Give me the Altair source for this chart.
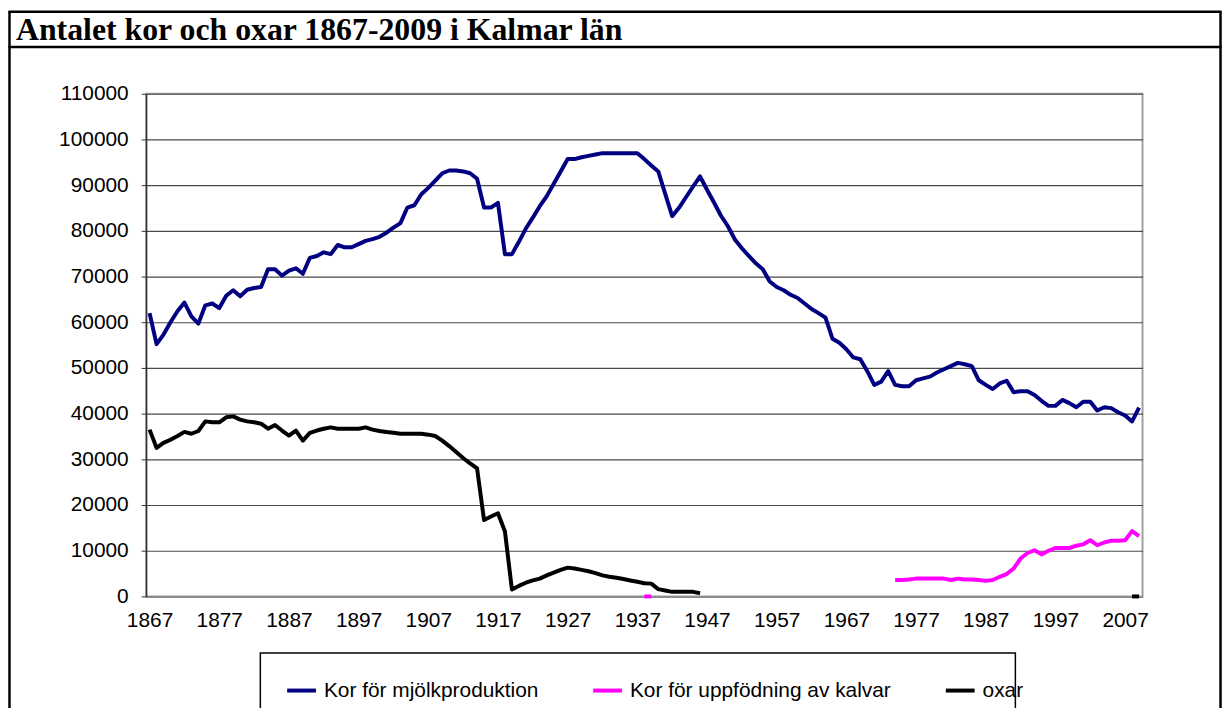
import altair as alt
import pandas as pd

S1 = "Kor för mjölkproduktion"
S2 = "Kor för uppfödning av kalvar"
S3 = "oxar"
TITLE = "Antalet kor och oxar 1867-2009 i Kalmar län"

mjolk_start = 1867
mjolk = [
    62000, 55200, 57300, 60000, 62400, 64300, 61300, 59700, 63700, 64100,  # 1867-1876
    63100, 65800, 67000, 65700, 67100, 67500, 67700, 71600, 71600, 70200,  # 1877-1886
    71300, 71800, 70600, 74100, 74500, 75300, 74900, 76900, 76400, 76400,  # 1887-1896
    77100, 77800, 78200, 78700, 79600, 80700, 81700, 85100, 85600, 88000,  # 1897-1906
    89400, 91000, 92600, 93200, 93200, 93000, 92600, 91400, 85100, 85100,  # 1907-1916
    86100, 74900, 74900, 77600, 80500, 82900, 85400, 87600, 90300, 93000,  # 1917-1926
    95700, 95700, 96100, 96400, 96700, 97000, 97000, 97000, 97000, 97000,  # 1927-1936
    97000, 95700, 94300, 93000, 88100, 83200, 85100, 87400, 89700, 91900,  # 1937-1946
    89000, 86200, 83300, 81000, 78100, 76200, 74500, 72900, 71600, 68900,  # 1947-1956
    67700, 67000, 66000, 65300, 64100, 62900, 62000, 61000, 56400, 55500,  # 1957-1966
    54100, 52300, 51900, 49300, 46300, 47000, 49300, 46300, 46000, 46000,  # 1967-1976
    47300, 47700, 48100, 49000, 49700, 50400, 51100, 50800, 50400, 47300,  # 1977-1986
    46300, 45400, 46600, 47200, 44700, 44900, 44900, 44100, 42800, 41700,  # 1987-1996
    41700, 43000, 42300, 41400, 42600, 42600, 40700, 41400, 41200, 40300,  # 1997-2006
    39600, 38300, 41300,                                                    # 2007-2009
]

oxar_start = 1867
oxar = [
    36500, 32500, 33600, 34300, 35100, 36000, 35600, 36200, 38300, 38100,  # 1867-1876
    38100, 39200, 39400, 38700, 38300, 38100, 37800, 36700, 37500, 36300,  # 1877-1886
    35200, 36300, 34100, 35800, 36300, 36700, 37000, 36700, 36700, 36700,  # 1887-1896
    36700, 37000, 36500, 36200, 36000, 35800, 35600, 35600, 35600, 35600,  # 1897-1906
    35400, 35100, 34100, 32900, 31600, 30300, 29100, 28000, 16700, 17500,  # 1907-1916
    18200, 14200, 1500, 2300, 3000, 3500, 3900, 4600, 5200, 5800,         # 1917-1926
    6300, 6100, 5800, 5500, 5100, 4600, 4300, 4100, 3800, 3500,           # 1927-1936
    3200, 2900, 2800, 1600, 1300, 1000, 1000, 1000, 1000, 700,            # 1937-1946
]
oxar_end_start = 2008
oxar_end = [0, 0]

kalv_early_start = 1938
kalv_early = [0, 0]
kalv_start = 1974
kalv = [
    3600, 3600, 3700, 3900, 3900, 3900, 3900, 3900, 3600, 3900,   # 1974-1983
    3700, 3700, 3600, 3400, 3600, 4300, 4900, 6100, 8300, 9500,   # 1984-1993
    10100, 9200, 10000, 10600, 10600, 10600, 11100, 11400, 12300, 11200,  # 1994-2003
    11800, 12200, 12200, 12300, 14300, 13200,                      # 2004-2009
]

x_ticks = [1867, 1877, 1887, 1897, 1907, 1917, 1927, 1937, 1947, 1957, 1967, 1977, 1987, 1997, 2007]
y_ticks = [0, 10000, 20000, 30000, 40000, 50000, 60000, 70000, 80000, 90000, 100000, 110000]

rows = []


def add(series, seg, start, vals):
    for i, v in enumerate(vals):
        rows.append({"year": start + i, "value": v, "series": series, "seg": seg})


add(S1, "m1", mjolk_start, mjolk)
add(S2, "k1", kalv_early_start, kalv_early)
add(S2, "k2", kalv_start, kalv)
add(S3, "o1", oxar_start, oxar)
add(S3, "o2", oxar_end_start, oxar_end)
df = pd.DataFrame(rows)

one = pd.DataFrame({"a": [0]})

FS = 21

lines = alt.Chart(df).mark_line(strokeWidth=4, strokeJoin="round").encode(
    x=alt.X(
        "year:Q",
        scale=alt.Scale(domain=[1866.5, 2009.5], nice=False, zero=False),
        axis=alt.Axis(values=x_ticks, format="d", title=None, grid=False, tickSize=0,
                      labelPadding=13, domainColor="#8c8c8c", domainWidth=2,
                      labelFlush=False, labelOverlap=False),
    ),
    y=alt.Y(
        "value:Q",
        scale=alt.Scale(domain=[0, 110000], nice=False),
        axis=alt.Axis(values=y_ticks, format="d", title=None, grid=True,
                      gridColor="#4a4a4a", gridWidth=1.2, tickSize=5, tickColor="#333333",
                      labelPadding=13, domainColor="#333333", domainWidth=1.5),
    ),
    color=alt.Color(
        "series:N",
        scale=alt.Scale(domain=[S1, S2, S3], range=["#000080", "#ff00ff", "#000000"]),
        legend=alt.Legend(title=None, orient="none", legendX=140, legendY=584,
                          direction="horizontal", symbolType="stroke", symbolSize=841,
                          symbolStrokeWidth=4, labelFontSize=FS, labelFont="Liberation Sans",
                          labelColor="black", labelOffset=6, columnPadding=47, labelLimit=0,
                          padding=0),
    ),
    detail="seg:N",
    order="year:Q",
)

frame_color = "black"
left_frame = alt.Chart(one).mark_rule(color=frame_color, strokeWidth=2.5).encode(
    x=alt.value(-137.5), y=alt.value(-83), y2=alt.value(620))
right_frame = alt.Chart(one).mark_rule(color=frame_color, strokeWidth=2.5).encode(
    x=alt.value(1081.5), y=alt.value(-83), y2=alt.value(620))
top_frame = alt.Chart(one).mark_rule(color=frame_color, strokeWidth=2.5).encode(
    x=alt.value(-138.5), x2=alt.value(1082.5), y=alt.value(-82.5))
title_sep = alt.Chart(one).mark_rule(color=frame_color, strokeWidth=2.5).encode(
    x=alt.value(-138.5), x2=alt.value(1082.5), y=alt.value(-47))
title_text = alt.Chart(one).mark_text(
    align="left", baseline="alphabetic", font="Liberation Serif", fontSize=32,
    fontWeight="bold", color="black").encode(
    x=alt.value(-131), y=alt.value(-54.5), text=alt.value(TITLE))
legend_box = alt.Chart(one).mark_rect(fillOpacity=0, stroke="black", strokeWidth=1.5).encode(
    x=alt.value(115), x2=alt.value(875), y=alt.value(563), y2=alt.value(640))

chart = alt.layer(
    left_frame, right_frame, top_frame, title_sep, title_text, legend_box, lines
).properties(
    width=1003, height=506,
    padding={"left": 139, "top": 84, "right": 81, "bottom": 110},
    autosize=alt.AutoSizeParams(type="none"),
).configure_view(
    stroke="#a0a0a0", strokeWidth=2
).configure_axis(
    labelFont="Liberation Sans", labelFontSize=FS, labelColor="black"
)

chart.save("out.html", embed_options={"renderer": "svg", "actions": False})
